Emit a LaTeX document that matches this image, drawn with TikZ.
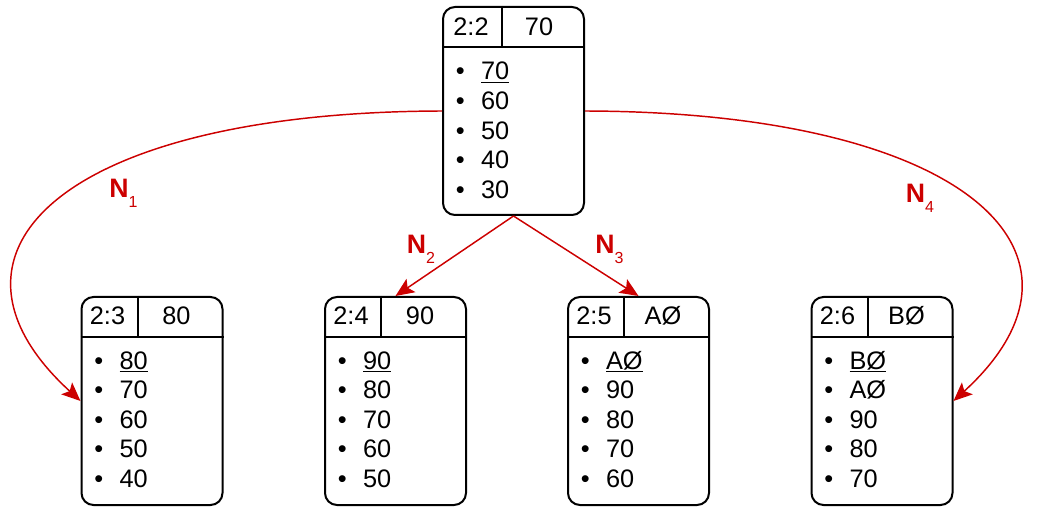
\documentclass[tikz,border=0pt]{standalone}
\usepackage{fontspec}
\setmainfont{Liberation Sans}
\usetikzlibrary{arrows.meta,calc}
\definecolor{linkred}{HTML}{CC0000}
\newcommand{\nlab}[1]{\textbf{N}\raisebox{-7.5pt}{\fontsize{12pt}{12pt}\selectfont #1}}

\begin{document}
\begin{tikzpicture}[x=0.75pt,y=-0.75pt,
	recbox/.style={draw,line width=1.5pt,rounded corners=9pt,minimum width=105.75pt,minimum height=156pt,inner sep=0pt},
	sep/.style={line width=1.5pt},
	hd/.style={inner sep=0pt,anchor=base,font=\fontsize{19pt}{22pt}\selectfont},
	item/.style={inner sep=0pt,anchor=base west,font=\fontsize{19pt}{22pt}\selectfont},
	link/.style={draw=linkred,line width=1.1pt,-{Stealth[length=14pt,width=12pt,inset=3pt]}},
	lab/.style={text=linkred,inner sep=0pt,font=\fontsize{20pt}{22pt}\selectfont}]
	\useasboundingbox (0,0) rectangle (1041,516);
	% root
	\node[recbox] (r22) at (513.5,111) {};
	\draw[sep] ($(r22.north west)+(0,41)$) -- ($(r22.north east)+(0,41)$);
	\draw[sep] ($(r22.north west)+(60,0)$) -- ($(r22.north west)+(60,41)$);
	\node[hd] (r22id) at ($(r22.north west)+(29,30)$) {2:2};
	\node[hd] (r22key) at ($(r22.north west)+(97,30)$) {70};
	\foreach \v [count=\i from 0] in {\underline{70},60,50,40,30}
		\node[item] (r22-\i) at ($(r22.north west)+(13.5,74+29.6*\i)$) {\makebox[19pt][l]{\textbullet}\v};
	% 2:3
	\node[recbox] (r23) at (152,401) {};
	\draw[sep] ($(r23.north west)+(0,41)$) -- ($(r23.north east)+(0,41)$);
	\draw[sep] ($(r23.north west)+(57,0)$) -- ($(r23.north west)+(57,41)$);
	\node[hd] (r23id) at ($(r23.north west)+(27,29)$) {2:3};
	\node[hd] (r23key) at ($(r23.north west)+(96,29)$) {80};
	\foreach \v [count=\i from 0] in {\underline{80},70,60,50,40}
		\node[item] (r23-\i) at ($(r23.north west)+(13.5,73+29.6*\i)$) {\makebox[19pt][l]{\textbullet}\v};
	% 2:4
	\node[recbox] (r24) at (395.5,401) {};
	\draw[sep] ($(r24.north west)+(0,41)$) -- ($(r24.north east)+(0,41)$);
	\draw[sep] ($(r24.north west)+(57,0)$) -- ($(r24.north west)+(57,41)$);
	\node[hd] (r24id) at ($(r24.north west)+(27,29)$) {2:4};
	\node[hd] (r24key) at ($(r24.north west)+(96,29)$) {90};
	\foreach \v [count=\i from 0] in {\underline{90},80,70,60,50}
		\node[item] (r24-\i) at ($(r24.north west)+(13.5,73+29.6*\i)$) {\makebox[19pt][l]{\textbullet}\v};
	% 2:5
	\node[recbox] (r25) at (638.5,401) {};
	\draw[sep] ($(r25.north west)+(0,41)$) -- ($(r25.north east)+(0,41)$);
	\draw[sep] ($(r25.north west)+(57,0)$) -- ($(r25.north west)+(57,41)$);
	\node[hd] (r25id) at ($(r25.north west)+(27,29)$) {2:5};
	\node[hd] (r25key) at ($(r25.north west)+(96,29)$) {AØ};
	\foreach \v [count=\i from 0] in {\underline{AØ},90,80,70,60}
		\node[item] (r25-\i) at ($(r25.north west)+(13.5,73+29.6*\i)$) {\makebox[19pt][l]{\textbullet}\v};
	% 2:6
	\node[recbox] (r26) at (882,401) {};
	\draw[sep] ($(r26.north west)+(0,41)$) -- ($(r26.north east)+(0,41)$);
	\draw[sep] ($(r26.north west)+(57,0)$) -- ($(r26.north west)+(57,41)$);
	\node[hd] (r26id) at ($(r26.north west)+(27,29)$) {2:6};
	\node[hd] (r26key) at ($(r26.north west)+(96,29)$) {BØ};
	\foreach \v [count=\i from 0] in {\underline{BØ},AØ,90,80,70}
		\node[item] (r26-\i) at ($(r26.north west)+(13.5,73+29.6*\i)$) {\makebox[19pt][l]{\textbullet}\v};
	% links
	\draw[link] (r22.west) .. controls +(-380,1) and +(-162,-148) .. (r23.west);
	\draw[link] (r22.east) .. controls +(380,1) and +(162,-148) .. (r26.east);
	\draw[link] (r22.south) -- (r24.north);
	\draw[link] (r22.south) -- (r25.north);
	\node[lab] (n1) at (123.5,193.5) {\nlab{1}};
	\node[lab] (n2) at (421,249) {\nlab{2}};
	\node[lab] (n3) at (609.5,249) {\nlab{3}};
	\node[lab] (n4) at (920,198) {\nlab{4}};
\end{tikzpicture}
\end{document}
